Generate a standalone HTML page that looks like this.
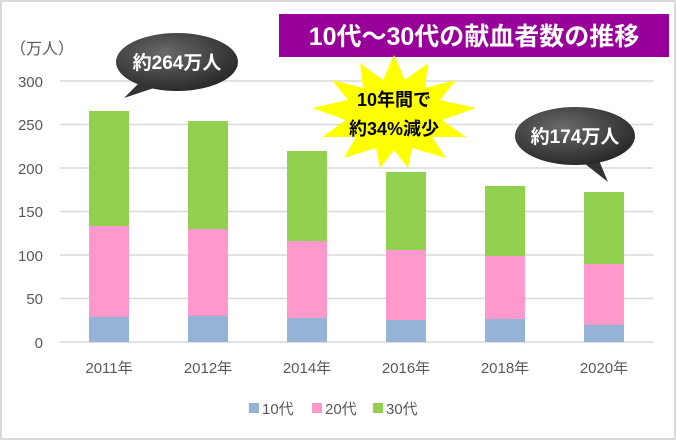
<!DOCTYPE html>
<html><head><meta charset="utf-8"><style>
body{margin:0;background:#fff}
svg text{font-family:"Liberation Sans","Noto Sans CJK JP",sans-serif}
</style></head><body>
<svg width="676" height="440" viewBox="0 0 676 440" xmlns="http://www.w3.org/2000/svg">
<defs>
<radialGradient id="g" cx="0.4" cy="0.35" r="0.7"><stop offset="0" stop-color="#6a6a6a"/><stop offset="1" stop-color="#262626"/></radialGradient>
</defs>
<rect x="1" y="1" width="674" height="438" fill="#fff" stroke="#d9d9d9" stroke-width="2"/>
<g stroke="#d9d9d9" stroke-width="1.5">
<line x1="60" x2="653" y1="81" y2="81"/><line x1="60" x2="653" y1="124.5" y2="124.5"/><line x1="60" x2="653" y1="168" y2="168"/><line x1="60" x2="653" y1="211.5" y2="211.5"/><line x1="60" x2="653" y1="255" y2="255"/><line x1="60" x2="653" y1="298.5" y2="298.5"/><line x1="60" x2="653" y1="342" y2="342"/>
</g>
<g font-size="15" fill="#595959" text-anchor="end">
<text x="43" y="87">300</text><text x="43" y="130">250</text><text x="43" y="174">200</text><text x="43" y="217">150</text><text x="43" y="261">100</text><text x="43" y="304">50</text><text x="43" y="348">0</text>
</g>
<text x="10" y="54" font-size="16" fill="#595959">（万人）</text>
<g>
<rect x="89" y="317" width="40" height="25" fill="#95b3d7"/><rect x="89" y="226" width="40" height="91" fill="#ff99cc"/><rect x="89" y="111" width="40" height="115" fill="#92d050"/>
<rect x="188" y="316" width="40" height="26" fill="#95b3d7"/><rect x="188" y="229" width="40" height="87" fill="#ff99cc"/><rect x="188" y="121" width="40" height="108" fill="#92d050"/>
<rect x="287" y="318" width="40" height="24" fill="#95b3d7"/><rect x="287" y="241" width="40" height="77" fill="#ff99cc"/><rect x="287" y="151" width="40" height="90" fill="#92d050"/>
<rect x="386" y="320" width="40" height="22" fill="#95b3d7"/><rect x="386" y="250" width="40" height="70" fill="#ff99cc"/><rect x="386" y="172" width="40" height="78" fill="#92d050"/>
<rect x="485" y="319" width="40" height="23" fill="#95b3d7"/><rect x="485" y="256" width="40" height="63" fill="#ff99cc"/><rect x="485" y="186" width="40" height="70" fill="#92d050"/>
<rect x="584" y="325" width="40" height="17" fill="#95b3d7"/><rect x="584" y="264" width="40" height="61" fill="#ff99cc"/><rect x="584" y="192" width="40" height="72" fill="#92d050"/>
</g>
<g font-size="15" fill="#595959" text-anchor="middle">
<text x="109" y="373">2011年</text><text x="208" y="373">2012年</text><text x="307" y="373">2014年</text><text x="406" y="373">2016年</text><text x="505" y="373">2018年</text><text x="604" y="373">2020年</text>
</g>
<g font-size="15" fill="#595959">
<rect x="249" y="403" width="10" height="10" fill="#95b3d7"/><text x="262" y="414">10代</text>
<rect x="312" y="403" width="10" height="10" fill="#ff99cc"/><text x="325" y="414">20代</text>
<rect x="373" y="403" width="10" height="10" fill="#92d050"/><text x="386" y="414">30代</text>
</g>
<rect x="279" y="14" width="390" height="43" fill="#990099"/>
<text x="474" y="45" font-size="25" font-weight="bold" fill="#fff" text-anchor="middle">10代～30代の献血者数の推移</text>
<polygon points="394,55 405,80 428,63 425,88 456,80 440,100 476,108 442,120 466,137 432,137 446,158 412,148 408,168 394,150 380,168 376,148 344,158 356,137 322,137 346,120 312,108 348,100 332,80 363,88 360,63 383,80" fill="#ffff00"/>
<text x="394" y="106" font-size="18" font-weight="bold" fill="#000" text-anchor="middle">10年間で</text>
<text x="394" y="135" font-size="18" font-weight="bold" fill="#000" text-anchor="middle">約34%減少</text>
<path d="M140,82 L124,98 L160,86 Z" fill="#333"/>
<ellipse cx="177" cy="62" rx="61" ry="29" fill="url(#g)"/>
<text x="177" y="69" font-size="19" font-weight="bold" fill="#fff" text-anchor="middle">約264万人</text>
<path d="M580,160 L608,182 L598,158 Z" fill="#333"/>
<ellipse cx="575" cy="136" rx="60" ry="29" fill="url(#g)"/>
<text x="575" y="143" font-size="19" font-weight="bold" fill="#fff" text-anchor="middle">約174万人</text>
</svg>
</body></html>
